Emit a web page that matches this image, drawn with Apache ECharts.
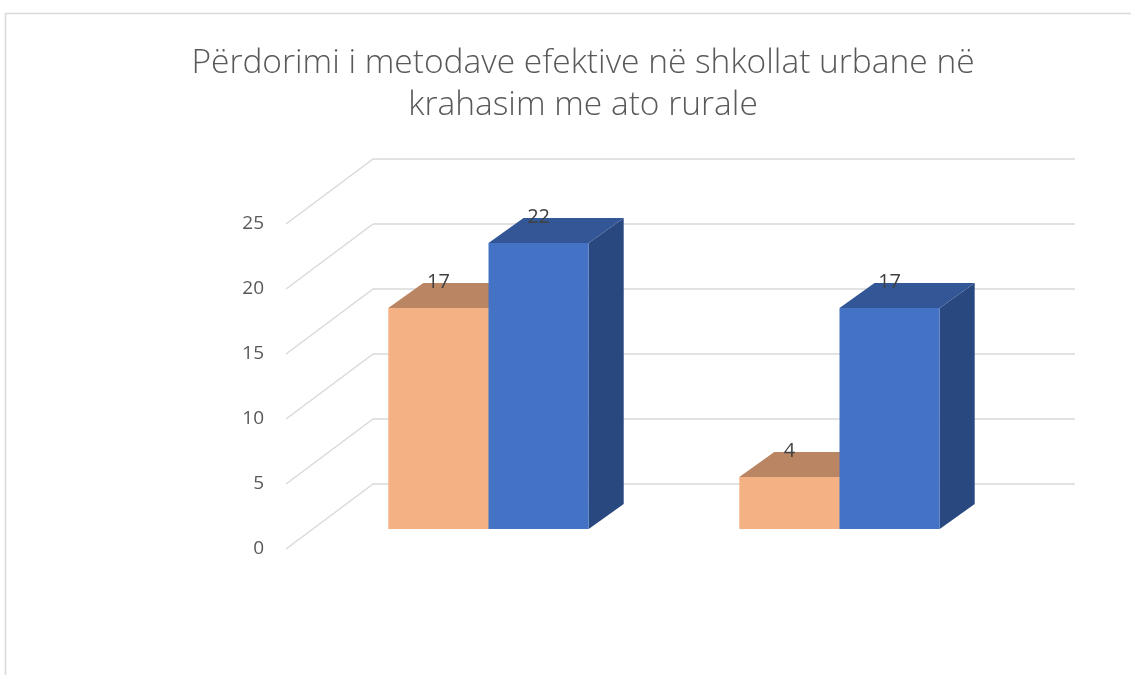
<!DOCTYPE html>
<html>
<head>
<meta charset="utf-8">
<script src="https://cdn.jsdelivr.net/npm/echarts@6/dist/echarts.min.js"></script>
<style>html,body{margin:0;padding:0;background:#fff}#chart{width:1131px;height:675px}</style>
</head>
<body>
<div id="chart"></div>
<script>
const titleText = 'Përdorimi i metodave efektive në shkollat urbane në\nkrahasim me ato rurale';
const categories = ['Urbane', 'Rurale'];
const seriesNames = ['Seria 1', 'Seria 2'];
const orangeValues = [17, 4];
const blueValues = [22, 17];
const yTicks = [0, 5, 10, 15, 20, 25];

// styling constants (3D projection offsets in pixels)
const FULL_DX = 87, FULL_DY = 65;    // front edge of floor relative to back wall
const FRONT_DX = 60, FRONT_DY = 45;  // bar front face relative to back wall
const DEPTH_DX = 35, DEPTH_DY = 25;  // bar depth
const BAR_FRAC = 0.2855;

const palettes = [
  { front: '#F4B183', top: '#BA8562', side: '#A8754F' },
  { front: '#4472C4', top: '#335796', side: '#2A4880' }
];

function makeBarRender(idx) {
  return function (params, api) {
    const cat = api.value(0), val = api.value(1);
    const c = api.coord([cat, val]);
    const b = api.coord([cat, 0]);
    const band = api.size([1, 0])[0];
    const w = band * BAR_FRAC;
    const x0 = c[0] + (idx - 1) * w - FRONT_DX;
    const yt = c[1] + FRONT_DY;
    const yb = b[1] + FRONT_DY;
    const p = palettes[idx];
    return {
      type: 'group',
      children: [
        { type: 'polygon', shape: { points: [[x0 + w, yt], [x0 + w + DEPTH_DX, yt - DEPTH_DY], [x0 + w + DEPTH_DX, yb - DEPTH_DY], [x0 + w, yb]] }, style: { fill: p.side } },
        { type: 'polygon', shape: { points: [[x0, yt], [x0 + w, yt], [x0 + w + DEPTH_DX, yt - DEPTH_DY], [x0 + DEPTH_DX, yt - DEPTH_DY]] }, style: { fill: p.top } },
        { type: 'rect', shape: { x: x0, y: yt, width: w, height: yb - yt }, style: { fill: p.front } },
        { type: 'text', x: x0 + w / 2, y: yt - DEPTH_DY - 1, style: { text: String(val), fill: '#404040', font: '20px "Open Sans", sans-serif', align: 'center', verticalAlign: 'middle' } }
      ]
    };
  };
}

function diagRender(params, api) {
  const v = api.value(0);
  const p = api.coord([0, v]);
  const x = params.coordSys.x;
  return {
    type: 'line',
    shape: { x1: x - FULL_DX, y1: p[1] + FULL_DY, x2: x, y2: p[1] },
    style: { stroke: '#D9D9D9', lineWidth: 1.5 }
  };
}

const chart = echarts.init(document.getElementById('chart'));
chart.setOption({
  animation: false,
  backgroundColor: '#ffffff',
  title: {
    text: titleText,
    left: 578,
    textAlign: 'center',
    top: 37,
    textStyle: { fontFamily: 'Open Sans', fontWeight: 300, fontSize: 33.5, color: '#595959', lineHeight: 42 }
  },
  graphic: [
    { type: 'rect', shape: { x: 5.5, y: 13.5, width: 1200, height: 800 }, style: { fill: 'none', stroke: '#D9D9D9', lineWidth: 1.5 }, silent: true }
  ],
  grid: [
    { left: 373, right: 56, top: 159, bottom: 191 },
    { left: 286, right: 143, top: 224, bottom: 126 }
  ],
  xAxis: [
    { type: 'category', gridIndex: 0, data: categories, show: false },
    { type: 'category', gridIndex: 1, data: categories, show: false }
  ],
  yAxis: [
    { type: 'value', gridIndex: 0, min: 0, max: 25, interval: 5,
      axisLabel: { show: false }, axisLine: { show: false }, axisTick: { show: false },
      splitLine: { show: true, lineStyle: { color: '#D9D9D9', width: 1.5 } } },
    { type: 'value', gridIndex: 1, min: 0, max: 25, interval: 5,
      axisLabel: { show: true, margin: 22, color: '#595959', fontSize: 19, fontFamily: 'Open Sans', padding: [4, 0, 0, 0] },
      axisLine: { show: false }, axisTick: { show: false }, splitLine: { show: false } }
  ],
  series: [
    { type: 'custom', name: 'grid-depth', xAxisIndex: 0, yAxisIndex: 0, renderItem: diagRender, data: yTicks.map(v => [v]), encode: { y: 0 }, silent: true, z: 1 },
    { type: 'custom', name: seriesNames[0], xAxisIndex: 0, yAxisIndex: 0, renderItem: makeBarRender(0), data: categories.map((c, i) => [i, orangeValues[i]]), encode: { x: 0, y: 1 }, z: 3 },
    { type: 'custom', name: seriesNames[1], xAxisIndex: 0, yAxisIndex: 0, renderItem: makeBarRender(1), data: categories.map((c, i) => [i, blueValues[i]]), encode: { x: 0, y: 1 }, z: 4 }
  ]
});
</script>
</body>
</html>
